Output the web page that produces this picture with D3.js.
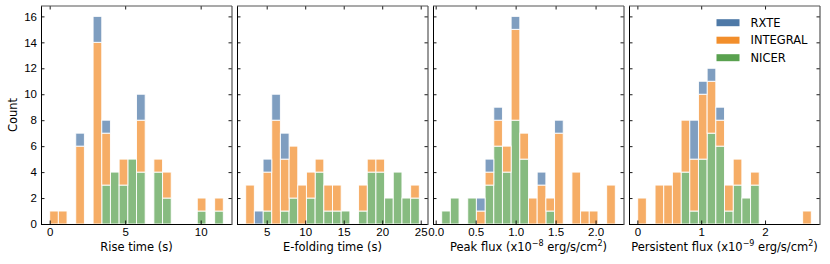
<!DOCTYPE html>
<html>
<head>
<meta charset="utf-8">
<script src="https://cdn.jsdelivr.net/npm/d3@7"></script>
<style>
  body { margin: 0; background: #fff; }
  svg { display: block; font-family: "DejaVu Sans", sans-serif; }
  .tick text { font-size: 11.5px; fill: #000; }
</style>
</head>
<body>
<div id="chart"></div>
<script>
'use strict';

// histogram counts per bin (20 bins per panel)
const riseRange = [0, 11.5];
const riseNicer    = [0,0,0,0,0,0,3,4,3,5,4,0,4,2,0,0,0,1,0,1];
const riseIntegral = [1,1,0,6,0,14,4,0,2,0,4,0,1,2,0,0,0,1,0,1];
const riseRxte     = [0,0,0,1,0,2,1,0,0,0,2,0,0,0,0,0,0,0,0,0];

const efoldRange = [2.27, 24.82];
const efoldNicer    = [0,0,1,0,1,2,0,2,4,1,1,1,0,1,4,4,2,4,2,2];
const efoldIntegral = [3,0,3,8,4,4,3,2,1,2,2,0,0,2,1,1,0,0,0,1];
const efoldRxte     = [0,1,1,2,2,0,0,0,0,0,0,0,0,0,0,0,0,0,0,0];

const peakRange = [0.075, 2.247];
const peakNicer    = [1,2,0,2,0,3,6,4,8,5,0,0,1,0,0,0,0,0,0,0];
const peakIntegral = [0,0,0,0,1,1,2,2,7,2,2,3,1,7,0,4,1,1,0,3];
const peakRxte     = [0,0,0,0,1,1,1,0,1,0,0,1,0,1,0,0,0,0,0,0];

const persRange = [0.005, 2.725];
const persNicer    = [0,0,0,0,0,4,1,5,7,6,1,3,2,3,0,0,0,0,0,0];
const persIntegral = [2,0,3,3,4,4,4,5,4,2,2,2,0,1,0,0,0,0,0,1];
const persRxte     = [0,0,0,0,0,0,3,1,1,1,0,0,0,0,0,0,0,0,0,0];

const xTicks = [[0,5,10],[5,10,15,20,25],[0,0.5,1,1.5,2],[0,1,2]];
const yTicks = [0,2,4,6,8,10,12,14,16];
const instruments = ["RXTE","INTEGRAL","NICER"];
const colors = {RXTE: "#4e79a7", INTEGRAL: "#f28e2b", NICER: "#59a14f"};

const panels = [
  {range: riseRange, nicer: riseNicer, integral: riseIntegral, rxte: riseRxte, ticks: xTicks[0], fmt: d3.format("d"),
   label: [{t: "Rise time (s)"}]},
  {range: efoldRange, nicer: efoldNicer, integral: efoldIntegral, rxte: efoldRxte, ticks: xTicks[1], fmt: d3.format("d"),
   label: [{t: "E-folding time (s)"}]},
  {range: peakRange, nicer: peakNicer, integral: peakIntegral, rxte: peakRxte, ticks: xTicks[2], fmt: d3.format(".1f"),
   label: [{t: "Peak flux (x10"}, {t: "\u22128", sup: true}, {t: " erg/s/cm"}, {t: "2", sup: true}, {t: ")"}]},
  {range: persRange, nicer: persNicer, integral: persIntegral, rxte: persRxte, ticks: xTicks[3], fmt: d3.format("d"),
   label: [{t: "Persistent flux (x10"}, {t: "\u22129", sup: true}, {t: " erg/s/cm"}, {t: "2", sup: true}, {t: ")"}]}
];

const width = 830, height = 264;
const panelLeft = [41, 237, 433, 629], panelW = 191;
const plotTop = 6, plotBottom = 224;
const tickLen = 3.5;

let svg = d3.select("#chart").append("svg")
  .attr("width", width)
  .attr("height", height)
  .attr("viewBox", `0 0 ${width} ${height}`);

svg.append("rect").attr("width", width).attr("height", height).attr("fill", "#fff");

let y = d3.scaleLinear().domain([0, 16.8]).range([plotBottom, plotTop]);

let stack = d3.stack().keys(["nicer", "integral", "rxte"]);
let keyName = {nicer: "NICER", integral: "INTEGRAL", rxte: "RXTE"};

panels.forEach((p, pi) => {
  let [lo, hi] = p.range;
  let span = hi - lo;
  let nb = p.nicer.length;
  let bw = span / nb;
  let x0 = panelLeft[pi];
  let x = d3.scaleLinear()
    .domain([lo - 0.05 * span, hi + 0.05 * span])
    .range([x0, x0 + panelW]);

  let rows = p.nicer.map((d, i) => ({
    i: i, nicer: d, integral: p.integral[i], rxte: p.rxte[i]
  }));
  let series = stack(rows);

  let g = svg.append("g");
  g.selectAll("g.layer")
    .data(series)
    .join("g")
    .attr("class", "layer")
    .attr("fill", s => colors[keyName[s.key]])
    .attr("fill-opacity", 0.72)
    .selectAll("rect")
    .data(s => s.filter(d => d[1] > d[0]))
    .join("rect")
      .attr("x", d => x(lo + d.data.i * bw))
      .attr("width", d => x(lo + (d.data.i + 1) * bw) - x(lo + d.data.i * bw))
      .attr("y", d => y(d[1]))
      .attr("height", d => y(d[0]) - y(d[1]))
      .attr("stroke", "#fff")
      .attr("stroke-opacity", 0.9)
      .attr("stroke-width", 1);

  // axes, ticks pointing inward on all four sides
  svg.append("g")
    .attr("transform", `translate(${x0},0)`)
    .call(d3.axisLeft(y).tickValues(yTicks).tickSize(-tickLen).tickPadding(4)
      .tickFormat(pi === 0 ? d3.format("d") : () => ""));
  svg.append("g")
    .attr("transform", `translate(${x0 + panelW},0)`)
    .call(d3.axisRight(y).tickValues(yTicks).tickSize(-tickLen).tickFormat(() => ""));
  svg.append("g")
    .attr("transform", `translate(0,${plotBottom})`)
    .call(d3.axisBottom(x).tickValues(p.ticks).tickSize(-tickLen).tickPadding(3.8).tickFormat(p.fmt));
  svg.append("g")
    .attr("transform", `translate(0,${plotTop})`)
    .call(d3.axisTop(x).tickValues(p.ticks).tickSize(-tickLen).tickFormat(() => ""));

  svg.selectAll(".domain").remove();
  svg.selectAll(".tick line").attr("stroke", "#000").attr("stroke-width", 0.9);

  // spines: left/bottom crisp, top/right softer like the original
  svg.append("line").attr("x1", x0 + 0.5).attr("x2", x0 + 0.5).attr("y1", plotTop).attr("y2", plotBottom + 0.5)
    .attr("stroke", "#000").attr("stroke-width", 1);
  svg.append("line").attr("x1", x0).attr("x2", x0 + panelW).attr("y1", plotBottom + 0.5).attr("y2", plotBottom + 0.5)
    .attr("stroke", "#000").attr("stroke-width", 1);
  svg.append("line").attr("x1", x0).attr("x2", x0 + panelW).attr("y1", plotTop).attr("y2", plotTop)
    .attr("stroke", "#555").attr("stroke-width", 1.2);
  svg.append("line").attr("x1", x0 + panelW).attr("x2", x0 + panelW).attr("y1", plotTop).attr("y2", plotBottom + 1)
    .attr("stroke", "#555").attr("stroke-width", 1.2);

  // x label
  let lab = svg.append("text")
    .attr("x", x0 + panelW / 2)
    .attr("y", 250.5)
    .attr("text-anchor", "middle")
    .attr("font-size", "11.5px")
    .attr("fill", "#000");
  let raised = false;
  p.label.forEach(seg => {
    let ts = lab.append("tspan").text(seg.t);
    if (seg.sup) {
      ts.attr("font-size", "8px").attr("dy", -4.5);
      raised = true;
    } else if (raised) {
      ts.attr("dy", 4.5);
      raised = false;
    }
  });
});

// y label
svg.append("text")
  .attr("transform", `translate(16.5,${(plotTop + plotBottom) / 2}) rotate(-90)`)
  .attr("text-anchor", "middle")
  .attr("font-size", "11.5px")
  .attr("fill", "#000")
  .text("Count");

// legend
let legend = svg.append("g").attr("transform", "translate(716.5,0)");
let legY = d3.scalePoint().domain(instruments).range([22.7, 57.7]);
legend.selectAll("rect")
  .data(instruments)
  .join("rect")
    .attr("x", 0)
    .attr("y", d => legY(d) - 3.5)
    .attr("width", 23)
    .attr("height", 7)
    .attr("fill", d => colors[d]);
legend.selectAll("text")
  .data(instruments)
  .join("text")
    .attr("x", 34)
    .attr("y", d => legY(d))
    .attr("dy", "0.36em")
    .attr("font-size", "11.5px")
    .attr("fill", "#000")
    .text(d => d);
</script>
</body>
</html>
